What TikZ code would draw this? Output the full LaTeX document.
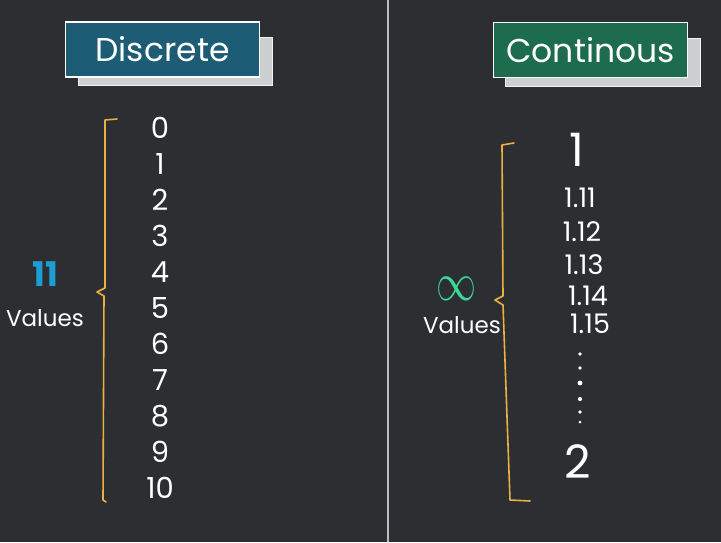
\documentclass[tikz,border=0pt]{standalone}
\usepackage{fontspec}
\setmainfont{Poppins}
\definecolor{board}{RGB}{44,46,50}
\definecolor{divider}{RGB}{185,188,192}
\definecolor{tealbox}{RGB}{28,92,116}
\definecolor{greenbox}{RGB}{30,108,78}
\definecolor{paper}{RGB}{205,207,208}
\definecolor{chalkorange}{RGB}{234,176,66}
\definecolor{chalkblue}{RGB}{28,158,212}
\definecolor{chalkgreen}{RGB}{58,218,150}
\tikzset{
  title/.style={draw=white, line width=1.5pt, minimum width=194pt, minimum height=55pt,
    text=white, font=\fontsize{33}{36}\selectfont},
  shadow/.style={fill=paper, draw=white!90!gray, line width=1pt},
  digit/.style={text=white, font=\fontsize{29}{30}\selectfont},
  decimal/.style={text=white, font=\fontsize{27}{28}\selectfont},
  bignum/.style={text=white, font=\fontsize{46}{48}\selectfont},
  count/.style={text=white, font=\fontsize{23}{25}\selectfont},
  brace/.style={draw=chalkorange, line width=1.6pt, line cap=round, line join=round}
}
\begin{document}
\begin{tikzpicture}[x=1pt,y=-1pt]
\useasboundingbox (0,0) rectangle (721,542);
\fill[board] (0,0) rectangle (721,542);
\draw[divider, line width=1.5pt] (388,0) -- (388,542);
% title cards
\fill[shadow] (78,37) rectangle (272,85);
\node[title, fill=tealbox] (discrete) at (162.5,49.5) {Discrete};
\fill[shadow] (505,38) rectangle (700,86);
\node[title, fill=greenbox] (continous) at (590.5,50) {Continous};
% discrete side
\draw[brace] (117,119) -- (105,120) -- (105,288) -- (97,292) -- (104,296) -- (103,500) -- (106,502);
\foreach \n in {0,...,10}
  \node[digit] (d\n) at (160,{128+36*\n}) {\n};
\node[text=chalkblue, font=\fontsize{34}{36}\selectfont\bfseries] (eleven) at (45,274) {11};
\node[count] (valuesd) at (45,318) {Values};
% continous side
\draw[brace] (514,143) -- (502,145) -- (503,296) -- (495,300) -- (503,305) -- (510,500) -- (530,501);
\node[bignum] (one) at (577,150) {1};
\node[decimal] (v11) at (580,198) {1.11};
\node[decimal] (v12) at (582,232) {1.12};
\node[decimal] (v13) at (584,265) {1.13};
\node[decimal] (v14) at (588,296) {1.14};
\node[decimal] (v15) at (590,324) {1.15};
\foreach \y/\r in {354/1.8,368/1.8,383/2.4,399/2.1,412/1.9,422/1.5}
  \fill[white] (580,\y) circle (\r);
\node[bignum] (two) at (578,462) {2};
\node[text=chalkgreen] (infty) at (456,289) {\scalebox{4}[5.4]{$\infty$}};
\node[count] (valuesc) at (462,325) {Values};
\end{tikzpicture}
\end{document}
